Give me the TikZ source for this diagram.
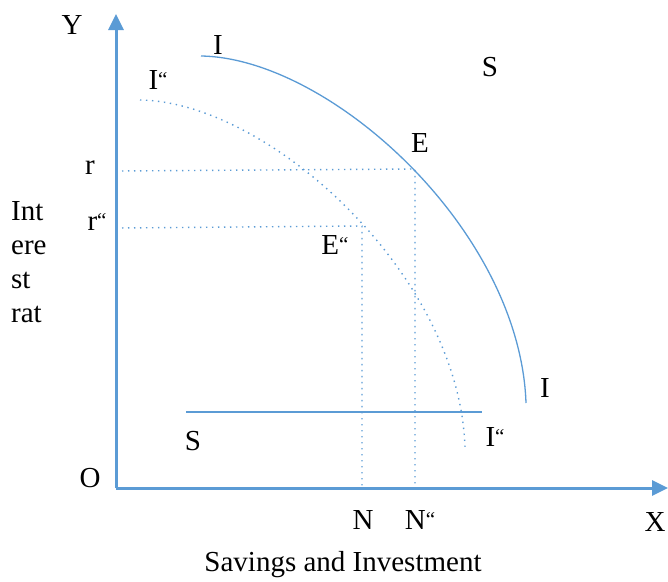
\documentclass[tikz,border=0pt]{standalone}
\usepackage{fontspec}
\setmainfont{Liberation Serif}
\usetikzlibrary{arrows.meta, positioning, calc}
\definecolor{axisblue}{HTML}{5B9BD5}
\newcommand{\dprime}{\raisebox{0.12em}{\fontsize{21}{21}\selectfont``}}
\tikzset{
    axisline/.style={-{Triangle[length=16pt,width=15pt]}, line width=3pt, draw=axisblue},
    curveline/.style={line width=1.3pt, draw=axisblue},
    dotline/.style={line width=1.4pt, draw=axisblue, dash pattern=on 1.4pt off 4.6pt},
    lbl/.style={font=\fontsize{29}{34}\selectfont, inner sep=0pt}
}

\begin{document}
\begin{tikzpicture}[x=1pt, y=-1pt]
    \useasboundingbox (0,0) rectangle (668,581);
    \coordinate (O) at (116,488);
    \coordinate (Ytip) at (116,14);
    \coordinate (Xtip) at (668,488);
    \coordinate (Itop) at (201,56);
    \coordinate (Ibot) at (526,403);
    \coordinate (Jtop) at (140,100);
    \coordinate (Jbot) at (465,447);
    \coordinate (E) at (415,169);
    \coordinate (E2) at (362,226);
    \coordinate (rA) at (116,171);
    \coordinate (rB) at (116,228);
    \coordinate (nA) at (362,488);
    \coordinate (nB) at (415,488);
    \coordinate (Sa) at (186,412);
    \coordinate (Sb) at (482,412);

    % Axes
    \draw[axisline] (O) -- (Ytip);
    \draw[axisline] (O) -- (Xtip);

    % Investment curves
    \draw[curveline] (Itop) .. controls +(129,2) and +(-6,-173) .. (Ibot);
    \draw[dotline] (Jtop) .. controls +(129,2) and +(-6,-173) .. (Jbot);

    % Savings line
    \draw[curveline] (Sa) -- (Sb);

    % Equilibrium guides
    \draw[dotline] (rA) -- (E) -- (nB);
    \draw[dotline] (rB) -- (E2) -- (nA);

    % Labels
    \node[lbl] (ylbl) at (72,25) {Y};
    \node[lbl] (olbl) at (90,478) {O};
    \node[lbl] (xlbl) at (655,522) {X};
    \node[lbl] (i1) at (218,45) {I};
    \node[lbl] (i2) at (158,80) {I\dprime};
    \node[lbl] (s1) at (490,67) {S};
    \node[lbl] (elbl) at (420,143) {E};
    \node[lbl] (e2lbl) at (335,245) {E\dprime};
    \node[lbl] (rlbl) at (90,168) {r};
    \node[lbl] (r2lbl) at (97,222) {r\dprime};
    \node[lbl] (i3) at (545,388) {I};
    \node[lbl] (s2) at (193,441) {S};
    \node[lbl] (i4) at (495,437) {I\dprime};
    \node[lbl] (nlbl) at (363,520) {N};
    \node[lbl] (n2lbl) at (420,520) {N\dprime};
    \node[lbl, anchor=west, align=left] (ylabel) at (11,262) {Int\\ere\\st\\rat};
    \node[lbl] (xlabel) at (343,565) {Savings and Investment};
\end{tikzpicture}
\end{document}
